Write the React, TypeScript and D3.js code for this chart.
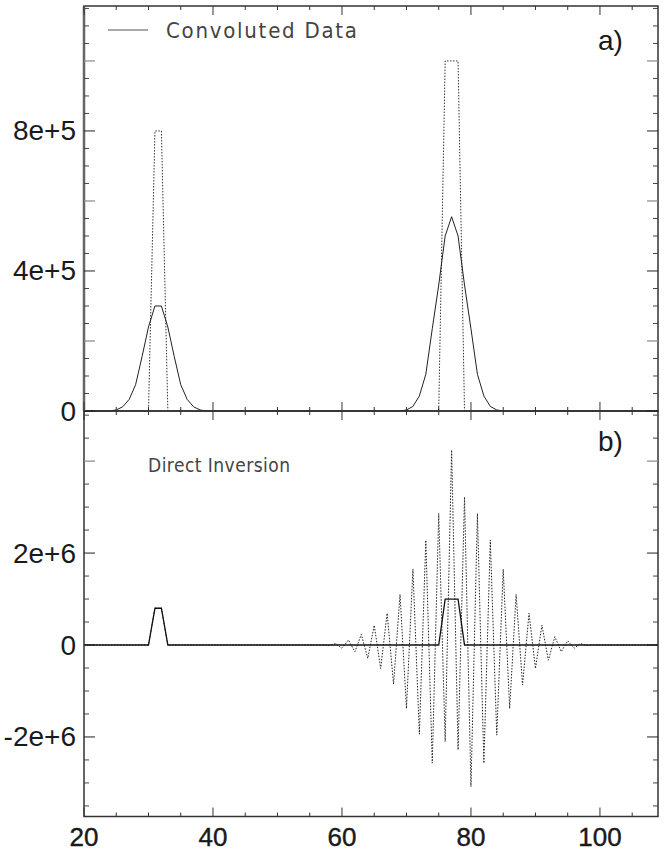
import React from "react";
import * as d3 from "d3";

// ---- data ----
const convX = [20, 24, 25, 26, 27, 28, 29, 30, 31, 32, 33, 34, 35, 36, 37, 38, 39,
  69, 70, 71, 72, 73, 74, 75, 76, 77, 78, 79, 80, 81, 82, 83, 84, 85, 109];
const convY = [0, 0, 3e3, 1.2e4, 3.3e4, 7.5e4, 1.55e5, 2.4e5, 3.0e5, 3.0e5, 2.4e5, 1.55e5, 7.5e4, 3.3e4, 1.2e4, 3e3, 0,
  0, 3e3, 1.3e4, 4.3e4, 1.05e5, 2.35e5, 3.6e5, 5.0e5, 5.55e5, 5.0e5, 3.6e5, 2.35e5, 1.05e5, 4.3e4, 1.3e4, 3e3, 0, 0];

const trueX = [20, 30, 31, 32, 33, 75, 76, 77, 78, 79, 109];
const trueY = [0, 0, 8e5, 8e5, 0, 0, 1e6, 1e6, 1e6, 0, 0];

const invX = [20, 30, 31, 32, 33, 57, 58, 59, 60, 61, 62, 63, 64, 65, 66, 67, 68, 69, 70, 71, 72, 73, 74,
  75, 76, 77, 78, 79, 80, 81, 82, 83, 84, 85, 86, 87, 88, 89, 90, 91, 92, 93, 94, 95, 96, 97, 98, 99, 109];
const invY = [0, 0, 8e5, 8e5, 0, 0, -1e4, 3e4, -7e4, 1.1e5, -1.45e5, 2.3e5, -2.9e5, 4.3e5, -5.1e5, 6.9e5, -8.5e5, 1.1e6, -1.38e6, 1.65e6, -1.94e6, 2.28e6, -2.57e6,
  2.86e6, -2.1e6, 4.24e6, -2.28e6, 3.22e6, -3.08e6, 2.86e6, -2.57e6, 2.28e6, -1.96e6, 1.65e6, -1.38e6, 1.1e6, -8.7e5, 6.9e5, -5.1e5, 4.3e5, -3.3e5, 1.8e5, -1.45e5, 9e4, -7e4, 3e4, -1e4, 0, 0];

const xMajor = [20, 40, 60, 80, 100];
const xLabels = ["20", "40", "60", "80", "100"];
const aMajor = [0, 4e5, 8e5];
const aLabels = ["0", "4e+5", "8e+5"];
const aGray = [2e5, 6e5, 1e6];
const bMajor = [-2e6, 0, 2e6];
const bLabels = ["-2e+6", "0", "2e+6"];
const bGray = [4e6];

const W = 669, H = 854;
const L = 84, R = 658;
const aTop = 6, mid = 411, bBot = 816.5;

export default function App() {
  const x = d3.scaleLinear().domain([20, 109]).range([L, R]);
  const ya = d3.scaleLinear().domain([0, 1.157e6]).range([mid, aTop]);
  const yb = d3.scaleLinear().domain([-3.73e6, 5.09e6]).range([bBot, mid]);

  const pts = (xs: number[], ys: number[]) => xs.map((v, i) => [v, ys[i]] as [number, number]);
  const la = d3.line<[number, number]>().x(d => x(d[0])).y(d => ya(d[1]));
  const lb = d3.line<[number, number]>().x(d => x(d[0])).y(d => yb(d[1]));

  const xMinor = d3.range(20, 110, 5);
  const aMinor = d3.range(0, 1.16e6, 5e4);
  const bMinor = d3.range(-3.5e6, 5.1e6, 5e5);

  const els: React.ReactNode[] = [];
  let k = 0;
  const hAxes: [number, number][] = [[aTop, 1], [mid, -1], [mid, 1], [bBot, -1]];
  hAxes.forEach(([yy, dir]) => {
    xMinor.forEach(v => {
      const major = xMajor.includes(v);
      const len = major ? 9 : 4;
      els.push(<line key={k++} x1={x(v)} x2={x(v)} y1={yy} y2={yy + dir * len} stroke="#333" strokeWidth={1} />);
    });
  });
  const vTicks = (scale: any, minor: number[], gray: number[], major: number[]) => {
    [L, R].forEach((xx, side) => {
      const dir = side === 0 ? 1 : -1;
      minor.forEach(v => {
        if (major.includes(v) || gray.includes(v)) return;
        els.push(<line key={k++} x1={xx} x2={xx + dir * 5} y1={scale(v)} y2={scale(v)} stroke="#444" strokeWidth={1} />);
      });
      gray.forEach(v => els.push(<line key={k++} x1={xx} x2={xx + dir * 11} y1={scale(v)} y2={scale(v)} stroke="#888" strokeWidth={1.2} />));
      major.forEach(v => els.push(<line key={k++} x1={xx} x2={xx + dir * 11} y1={scale(v)} y2={scale(v)} stroke="#222" strokeWidth={1} />));
    });
  };
  vTicks(ya, aMinor, aGray, aMajor);
  vTicks(yb, bMinor, bGray, bMajor);

  const labelStyle = { fontFamily: "'Liberation Sans', Arial, sans-serif", fontSize: 28, fill: "#1a1a1a" };
  const thinFont = "'DejaVu Sans Condensed', 'DejaVu Sans', sans-serif";

  return (
    <svg width={W} height={H} style={{ position: "absolute", left: 0, top: 0, background: "#fff" }}>
      <rect x={0} y={0} width={W} height={H} fill="#fff" />
      <path d={la(pts(trueX, trueY)) || ""} fill="none" stroke="#333" strokeWidth={1} strokeDasharray="1.5,1.5" />
      <path d={la(pts(convX, convY)) || ""} fill="none" stroke="#222" strokeWidth={1} />
      <path d={lb(pts(invX, invY)) || ""} fill="none" stroke="#222" strokeWidth={1} strokeDasharray="1.5,1.5" />
      <path d={lb(pts(trueX, trueY)) || ""} fill="none" stroke="#111" strokeWidth={1.3} />
      <rect x={L} y={aTop} width={R - L} height={mid - aTop} fill="none" stroke="#333" strokeWidth={1.5} />
      <rect x={L} y={mid} width={R - L} height={bBot - mid} fill="none" stroke="#333" strokeWidth={1.5} />
      <line x1={L} x2={L} y1={aTop} y2={mid} stroke="#666" strokeWidth={2.5} />
      {els}
      {aMajor.map((v, i) => (
        <text key={"a" + i} x={76} y={ya(v)} textAnchor="end" dominantBaseline="central" style={labelStyle}>{aLabels[i]}</text>
      ))}
      {bMajor.map((v, i) => (
        <text key={"b" + i} x={76} y={yb(v)} textAnchor="end" dominantBaseline="central" style={labelStyle}>{bLabels[i]}</text>
      ))}
      {xMajor.map((v, i) => (
        <text key={"x" + i} x={x(v)} y={846} textAnchor="middle" style={{ ...labelStyle, fontSize: 26, stroke: "#1a1a1a", strokeWidth: 0.4 }}>{xLabels[i]}</text>
      ))}
      <line x1={108} x2={148} y1={30} y2={30} stroke="#555" strokeWidth={1} />
      <text x={166} y={38} textLength={191} lengthAdjust="spacing" style={{ fontFamily: thinFont, fontWeight: 200, fontSize: 22, fill: "#444" }}>Convoluted Data</text>
      <text x={148} y={472} textLength={142} lengthAdjust="spacing" style={{ fontFamily: thinFont, fontWeight: 200, fontSize: 19, fill: "#444" }}>Direct Inversion</text>
      <text x={598} y={50} style={{ ...labelStyle }}>a)</text>
      <text x={598} y={451} style={{ ...labelStyle }}>b)</text>
    </svg>
  );
}
